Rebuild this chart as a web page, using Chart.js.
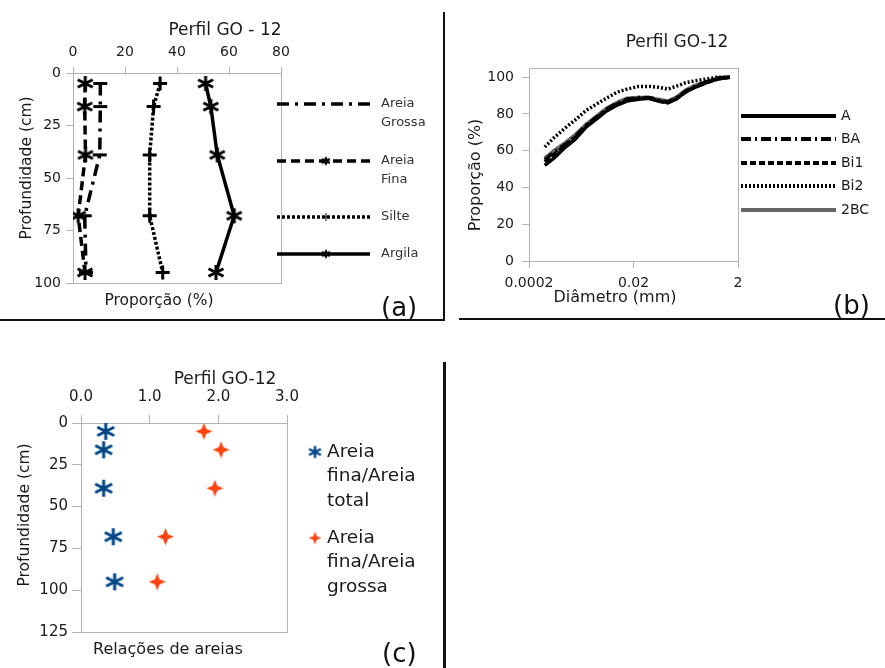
<!DOCTYPE html>
<html>
<head>
<meta charset="utf-8">
<script src="https://cdn.jsdelivr.net/npm/chart.js@4.4.1/dist/chart.umd.min.js"></script>
<style>
  html, body { margin:0; padding:0; background:#fff; }
  #page { position:relative; width:885px; height:668px; overflow:hidden; font-family:'DejaVu Sans', sans-serif; }
  canvas { position:absolute; left:0; top:0; }
  .sep { position:absolute; background:#111; }
  .tag { position:absolute; font-size:26px; color:#111; line-height:1; }
</style>
</head>
<body>
<div id="page">
  <canvas id="chartA" width="885" height="668"></canvas>
  <canvas id="chartB" width="885" height="668"></canvas>
  <canvas id="chartC" width="885" height="668"></canvas>
  <div class="sep" style="left:443px;top:12px;width:2px;height:309px"></div>
  <div class="sep" style="left:0;top:319px;width:445px;height:2px"></div>
  <div class="sep" style="left:459px;top:318px;width:426px;height:2px"></div>
  <div class="sep" style="left:443px;top:362px;width:3px;height:306px"></div>
  <div class="tag" style="left:381px;top:294px">(a)</div>
  <div class="tag" style="left:833px;top:292px">(b)</div>
  <div class="tag" style="left:382px;top:640px">(c)</div>
</div>
<script>
// ====== DADOS ======
// (a) granulometria x profundidade
const depth = [5, 16, 39, 68, 95];
const aNames = ['Areia Grossa', 'Areia Fina', 'Silte', 'Argila'];
const areiaGrossa = [10.5, 10.5, 10.3, 4.5, 5];
const areiaFina   = [4.7, 4.5, 4.8, 2, 4.6];
const silte       = [33.5, 31, 29.5, 29.5, 34.5];
const argila      = [51, 53, 55.5, 62, 55];
const aTicksX = [0, 20, 40, 60, 80];
const aTicksY = [0, 25, 50, 75, 100];

// (b) curvas acumuladas
const diametro = [0.0004, 0.0006, 0.001, 0.0015, 0.0025, 0.004, 0.006, 0.01, 0.015, 0.025,
                  0.04, 0.06, 0.09, 0.13, 0.2, 0.3, 0.5, 0.8, 1.4];
const bNames = ['A', 'BA', 'Bi1', 'Bi2', '2BC'];
const hA   = [52, 56, 62, 66, 73, 77.5, 81.5, 85, 87, 88, 88.5, 87, 86.3, 88, 92, 94.5, 97, 99, 100];
const hBA  = [55, 59, 63.5, 67.5, 74, 78.5, 82.5, 86, 88, 89, 89, 87.5, 86.5, 88.5, 92.5, 95, 97.5, 99.5, 100];
const hBi1 = [54, 58, 63, 67, 73.5, 78, 82, 85.5, 87.5, 88.5, 88.5, 87, 86, 88, 92, 94.5, 97, 99, 100];
const hBi2 = [62, 67, 72.5, 76.5, 82, 85.5, 88.5, 92, 93.5, 95, 95, 94.5, 93.5, 95, 97, 98, 99, 100, 100];
const h2BC = [56, 60, 64.5, 68.5, 74.5, 79, 83, 86.5, 88.5, 89, 89, 88, 87, 89, 93, 95.5, 97.5, 99.5, 100];
const bTicksX = [0.0002, 0.02, 2];
const bTickLabels = ['0.0002', '0.02', '2'];
const bTicksY = [0, 20, 40, 60, 80, 100];

// (c) relacoes de areias
const cNames = [['Areia', 'fina/Areia', 'total'], ['Areia', 'fina/Areia', 'grossa']];
const relTotal  = [0.36, 0.33, 0.33, 0.47, 0.49];
const relGrossa = [1.79, 2.04, 1.95, 1.23, 1.11];
const cTicksX = [0, 1, 2, 3];
const cTicksY = [0, 25, 50, 75, 100, 125];
// ===================

const TXT = '#1a1a1a';
const GRID = '#b3b3b3';
Chart.defaults.font.family = "'DejaVu Sans', sans-serif";
Chart.defaults.color = TXT;

// marcadores
function asterisk(size, color, lw){
  const c = document.createElement('canvas');
  c.width = Math.ceil(size * 1.15 + lw * 2); c.height = Math.ceil(size + lw * 2);
  const g = c.getContext('2d');
  const cx = c.width / 2, cy = c.height / 2, r = size / 2;
  g.strokeStyle = color; g.lineWidth = lw;
  g.beginPath();
  for (let i = 0; i < 3; i++){
    const a = Math.PI / 2 + i * Math.PI / 3;
    const dx = r * Math.cos(a) * 1.15, dy = r * Math.sin(a);
    g.moveTo(cx + dx, cy + dy); g.lineTo(cx - dx, cy - dy);
  }
  g.stroke();
  return c;
}
function star4(size, color){
  const c = document.createElement('canvas');
  c.width = c.height = size + 2;
  const g = c.getContext('2d');
  const m = c.width / 2, r = size / 2, w = r * 0.28;
  g.fillStyle = color;
  g.beginPath();
  g.moveTo(m, m - r); g.lineTo(m + w, m - w); g.lineTo(m + r, m); g.lineTo(m + w, m + w);
  g.lineTo(m, m + r); g.lineTo(m - w, m + w); g.lineTo(m - r, m); g.lineTo(m - w, m - w);
  g.closePath(); g.fill();
  return c;
}

const starBig = asterisk(15, '#000', 3);
const starSmall = asterisk(8, '#000', 2.2);
const blueStar = asterisk(17, '#004586', 3);
const blueStarSm = asterisk(12, '#004586', 2.5);
const orangeStar = star4(17, '#ff420e');
const orangeStarSm = star4(13, '#ff420e');

function fixedTicks(arr){ return s => { s.ticks = arr.map(v => ({ value: v })); }; }
function pts(xs, ys){ return ys.map((y, i) => ({ x: xs[i], y })); }

// moldura cinza da area de plotagem
const frame = {
  id: 'frame',
  beforeDatasetsDraw(chart){
    const a = chart.chartArea, ctx = chart.ctx;
    ctx.save(); ctx.strokeStyle = GRID; ctx.lineWidth = 1;
    ctx.strokeRect(Math.round(a.left) + 0.5, Math.round(a.top) + 0.5,
                   Math.round(a.right - a.left), Math.round(a.bottom - a.top));
    ctx.restore();
  }
};

// textos soltos (titulo, eixos, legenda)
const texts = {
  id: 'texts',
  afterDraw(chart, args, opts){
    const ctx = chart.ctx;
    (opts.items || []).forEach(t => {
      ctx.save();
      ctx.font = `${t.size}px 'DejaVu Sans'`;
      ctx.fillStyle = t.color || TXT;
      ctx.textAlign = t.align || 'center';
      ctx.textBaseline = 'middle';
      ctx.translate(t.x, t.y);
      if (t.rot) ctx.rotate(t.rot);
      ctx.fillText(t.text, 0, 0);
      ctx.restore();
    });
    if (opts.legend) opts.legend(chart, ctx);
  }
};

function lineSample(ctx, ds, x1, x2, y){
  ctx.save();
  ctx.strokeStyle = ds.borderColor; ctx.lineWidth = ds.borderWidth;
  ctx.setLineDash(ds.borderDash || []);
  ctx.beginPath(); ctx.moveTo(x1, y); ctx.lineTo(x2, y); ctx.stroke();
  ctx.restore();
}

// ---------- (a) ----------
const aLegendMarks = [null, starSmall, 'cross', starSmall];
new Chart(document.getElementById('chartA'), {
  type: 'scatter',
  data: {
    datasets: [
      { label: aNames[0], data: pts(areiaGrossa, depth), showLine: true, borderColor: '#000', backgroundColor: '#000',
        borderWidth: 3.5, borderDash: [12, 6, 3, 6], pointStyle: 'line', pointRadius: 7, pointBorderWidth: 3 },
      { label: aNames[1], data: pts(areiaFina, depth), showLine: true, borderColor: '#000', backgroundColor: '#000',
        borderWidth: 3.5, borderDash: [9, 5], pointStyle: starBig },
      { label: aNames[2], data: pts(silte, depth), showLine: true, borderColor: '#000', backgroundColor: '#000',
        borderWidth: 3.5, borderDash: [3, 2], pointStyle: 'cross', pointRadius: 7, pointBorderWidth: 3 },
      { label: aNames[3], data: pts(argila, depth), showLine: true, borderColor: '#000', backgroundColor: '#000',
        borderWidth: 3.5, pointStyle: starBig }
    ]
  },
  options: {
    responsive: false, animation: false, devicePixelRatio: 1,
    layout: { padding: { left: 13, top: 23, right: 604, bottom: 385 } },
    scales: {
      x: { type: 'linear', position: 'top', min: 0, max: 80,
           afterBuildTicks: fixedTicks(aTicksX), afterFit: s => { s.height = 50; },
           ticks: { font: { size: 14 }, padding: 6, color: TXT },
           grid: { drawOnChartArea: false, tickLength: 6, color: GRID }, border: { color: GRID } },
      y: { type: 'linear', reverse: true, min: 0, max: 100,
           afterBuildTicks: fixedTicks(aTicksY), afterFit: s => { s.width = 60; },
           ticks: { font: { size: 14 }, padding: 5, color: TXT },
           grid: { drawOnChartArea: false, tickLength: 7, color: GRID }, border: { color: GRID } }
    },
    plugins: {
      legend: { display: false }, tooltip: { enabled: false },
      texts: {
        items: [
          { text: 'Perfil GO - 12', x: 225, y: 31, size: 17 },
          { text: 'Profundidade (cm)', x: 27, y: 168, size: 15.5, rot: -Math.PI / 2 },
          { text: 'Proporção (%)', x: 159, y: 301, size: 15.5 }
        ],
        legend(chart, ctx){
          const ys = [104, 161, 217, 254];
          chart.data.datasets.forEach((ds, i) => {
            lineSample(ctx, ds, 277, 370, ys[i]);
            const m = aLegendMarks[i];
            ctx.save(); ctx.strokeStyle = '#000'; ctx.fillStyle = '#000';
            if (m === 'cross') Chart.helpers.drawPoint(ctx, { pointStyle: 'cross', radius: 4, borderWidth: 2 }, 326, ys[i]);
            else if (m) Chart.helpers.drawPoint(ctx, { pointStyle: m, radius: 4, borderWidth: 2 }, 326, ys[i]);
            ctx.restore();
            ctx.save();
            ctx.font = "13px 'DejaVu Sans'"; ctx.fillStyle = '#333'; ctx.textAlign = 'left'; ctx.textBaseline = 'middle';
            ds.label.split(' ').forEach((w, k) => ctx.fillText(w, 381, ys[i] + k * 19));
            ctx.restore();
          });
        }
      }
    }
  },
  plugins: [frame, texts]
});

// ---------- (b) ----------
new Chart(document.getElementById('chartB'), {
  type: 'scatter',
  data: {
    datasets: [
      { label: bNames[0], data: pts(diametro, hA), showLine: true, borderColor: '#000', borderWidth: 3.5, pointRadius: 0 },
      { label: bNames[1], data: pts(diametro, hBA), showLine: true, borderColor: '#000', borderWidth: 3.5, borderDash: [10, 4, 2, 4], pointRadius: 0 },
      { label: bNames[2], data: pts(diametro, hBi1), showLine: true, borderColor: '#000', borderWidth: 3.5, borderDash: [6, 3], pointRadius: 0 },
      { label: bNames[3], data: pts(diametro, hBi2), showLine: true, borderColor: '#000', borderWidth: 3.5, borderDash: [2, 2], pointRadius: 0 },
      { label: bNames[4], data: pts(diametro, h2BC), showLine: true, borderColor: '#666', borderWidth: 3.5, pointRadius: 0 }
    ]
  },
  options: {
    responsive: false, animation: false, devicePixelRatio: 1,
    layout: { padding: { left: 469, top: 68, right: 147, bottom: 367 } },
    scales: {
      x: { type: 'logarithmic', position: 'bottom', min: 0.0002, max: 2,
           afterBuildTicks: fixedTicks(bTicksX), afterFit: s => { s.height = 40; },
           ticks: { font: { size: 14 }, padding: 7, color: TXT, autoSkip: false, maxRotation: 0,
                    callback: (v, i) => bTickLabels[i] },
           grid: { drawOnChartArea: false, tickLength: 7, color: GRID }, border: { color: GRID } },
      y: { type: 'linear', min: 0, max: 105,
           afterBuildTicks: fixedTicks(bTicksY), afterFit: s => { s.width = 60; },
           ticks: { font: { size: 14 }, padding: 8, color: TXT },
           grid: { drawOnChartArea: false, tickLength: 7, color: GRID }, border: { color: GRID } }
    },
    plugins: {
      legend: { display: false }, tooltip: { enabled: false },
      texts: {
        items: [
          { text: 'Perfil GO-12', x: 677, y: 43, size: 17 },
          { text: 'Proporção (%)', x: 476, y: 175, size: 16, rot: -Math.PI / 2 },
          { text: 'Diâmetro (mm)', x: 615, y: 298, size: 16 }
        ],
        legend(chart, ctx){
          const ys = [116, 139, 163, 186, 210];
          chart.data.datasets.forEach((ds, i) => {
            lineSample(ctx, Object.assign({}, ds, { borderWidth: 4 }), 741, 836, ys[i]);
            ctx.save();
            ctx.font = "14px 'DejaVu Sans'"; ctx.fillStyle = TXT; ctx.textAlign = 'left'; ctx.textBaseline = 'middle';
            ctx.fillText(ds.label, 841, ys[i]);
            ctx.restore();
          });
        }
      }
    }
  },
  plugins: [frame, texts]
});

// ---------- (c) ----------
const cLegendMarks = [blueStarSm, orangeStarSm];
new Chart(document.getElementById('chartC'), {
  type: 'scatter',
  data: {
    datasets: [
      { label: cNames[0].join(' '), data: pts(relTotal, depth), pointStyle: blueStar },
      { label: cNames[1].join(' '), data: pts(relGrossa, depth), pointStyle: orangeStar }
    ]
  },
  options: {
    responsive: false, animation: false, devicePixelRatio: 1,
    layout: { padding: { left: 21, top: 373, right: 598, bottom: 36 } },
    scales: {
      x: { type: 'linear', position: 'top', min: 0, max: 3,
           afterBuildTicks: fixedTicks(cTicksX), afterFit: s => { s.height = 50; },
           ticks: { font: { size: 15 }, padding: 9, color: TXT, callback: v => v.toFixed(1) },
           grid: { drawOnChartArea: false, tickLength: 8, color: GRID }, border: { color: GRID } },
      y: { type: 'linear', reverse: true, min: 0, max: 125,
           afterBuildTicks: fixedTicks(cTicksY), afterFit: s => { s.width = 60; },
           ticks: { font: { size: 15 }, padding: 4, color: TXT },
           grid: { drawOnChartArea: false, tickLength: 9, color: GRID }, border: { color: GRID } }
    },
    plugins: {
      legend: { display: false }, tooltip: { enabled: false },
      texts: {
        items: [
          { text: 'Perfil GO-12', x: 225, y: 380, size: 17 },
          { text: 'Profundidade (cm)', x: 25, y: 515, size: 15.5, rot: -Math.PI / 2 },
          { text: 'Relações de areias', x: 168, y: 650, size: 16 }
        ],
        legend(chart, ctx){
          const ys = [452, 538];
          cNames.forEach((lines, i) => {
            Chart.helpers.drawPoint(ctx, { pointStyle: cLegendMarks[i], radius: 5, borderWidth: 1 }, 315, ys[i]);
            ctx.save();
            ctx.font = "18.5px 'DejaVu Sans'"; ctx.fillStyle = TXT; ctx.textAlign = 'left'; ctx.textBaseline = 'middle';
            lines.forEach((w, k) => ctx.fillText(w, 327, ys[i] + k * 24.5));
            ctx.restore();
          });
        }
      }
    }
  },
  plugins: [frame, texts]
});
</script>
</body>
</html>
